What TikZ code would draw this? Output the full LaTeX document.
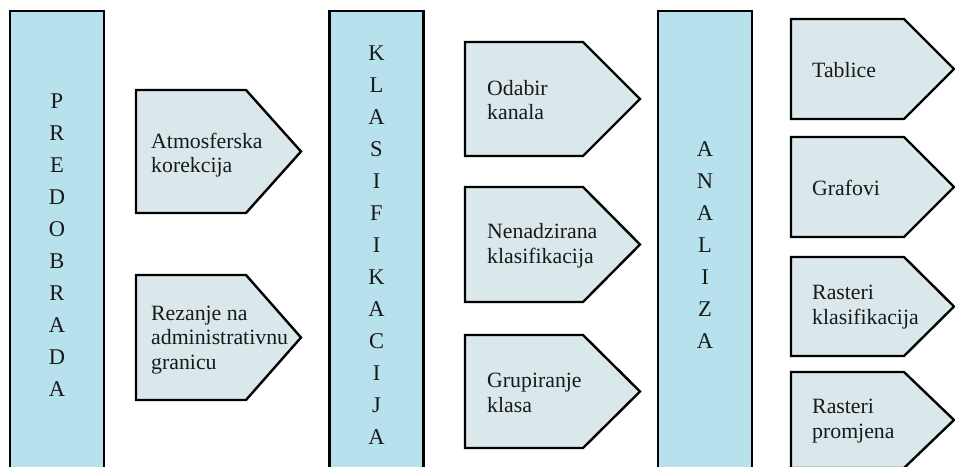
\documentclass[tikz,border=0pt]{standalone}
\usepackage{fontspec}
\setmainfont{Liberation Serif}
\usepackage{tikz}

\definecolor{barblue}{HTML}{B7E1EC}
\definecolor{chevgray}{HTML}{DAE8EC}

\begin{document}
\begin{tikzpicture}[x=1pt,y=-1pt,
  bar/.style={rectangle,draw,line width=2.4pt,fill=barblue,minimum width=94pt,minimum height=468pt,align=center,inner sep=0pt,font=\fontsize{22.5}{32}\selectfont,text=black!90},
  chev/.style={draw,line width=2.4pt,fill=chevgray,line join=miter},
  lbl/.style={anchor=west,inner sep=0pt,align=left,font=\fontsize{21.8}{24.5}\selectfont,text=black!90}]

        \useasboundingbox (0,0) rectangle (955,466);

        % faze
        \node[bar] (predobrada)    at (57, 245)     {P\\R\\E\\D\\O\\B\\R\\A\\D\\A};
        \node[bar] (klasifikacija) at (376.5, 245)  {K\\L\\A\\S\\I\\F\\I\\K\\A\\C\\I\\J\\A};
        \node[bar] (analiza)       at (705, 245)    {A\\N\\A\\L\\I\\Z\\A};

        % predobrada
        \draw[chev] (136,90) -- (246,90) -- (301,151.5) -- (246,213) -- (136,213) -- cycle;
        \node[lbl] (atmosferska) at (151,155)   {Atmosferska\\korekcija};
        \draw[chev] (136,275) -- (246,275) -- (301,337.5) -- (246,400) -- (136,400) -- cycle;
        \node[lbl] (rezanje)     at (151,340)   {Rezanje na\\administrativnu\\granicu};

        % klasifikacija
        \draw[chev] (465,42) -- (583,42) -- (640,99) -- (583,156) -- (465,156) -- cycle;
        \node[lbl] (odabir)      at (487,100)   {Odabir\\kanala};
        \draw[chev] (465,187) -- (583,187) -- (640,244.5) -- (583,302) -- (465,302) -- cycle;
        \node[lbl] (nenadzirana) at (487,246)   {Nenadzirana\\klasifikacija};
        \draw[chev] (465,335) -- (583,335) -- (640,391.5) -- (583,448) -- (465,448) -- cycle;
        \node[lbl] (grupiranje)  at (487,393)   {Grupiranje\\klasa};

        % analiza
        \draw[chev] (791,19) -- (904,19) -- (954,69) -- (904,119) -- (791,119) -- cycle;
        \node[lbl] (tablice)     at (812,70)    {Tablice};
        \draw[chev] (791,137) -- (904,137) -- (954,187) -- (904,237) -- (791,237) -- cycle;
        \node[lbl] (grafovi)     at (812,188)   {Grafovi};
        \draw[chev] (791,257) -- (904,257) -- (954,306.5) -- (904,356) -- (791,356) -- cycle;
        \node[lbl] (rklas)       at (812,307)   {Rasteri\\klasifikacija};
        \draw[chev] (791,372) -- (904,372) -- (954,420) -- (904,468) -- (791,468) -- cycle;
        \node[lbl] (rpromjena)   at (812,421)   {Rasteri\\promjena};
      \end{tikzpicture}
\end{document}
